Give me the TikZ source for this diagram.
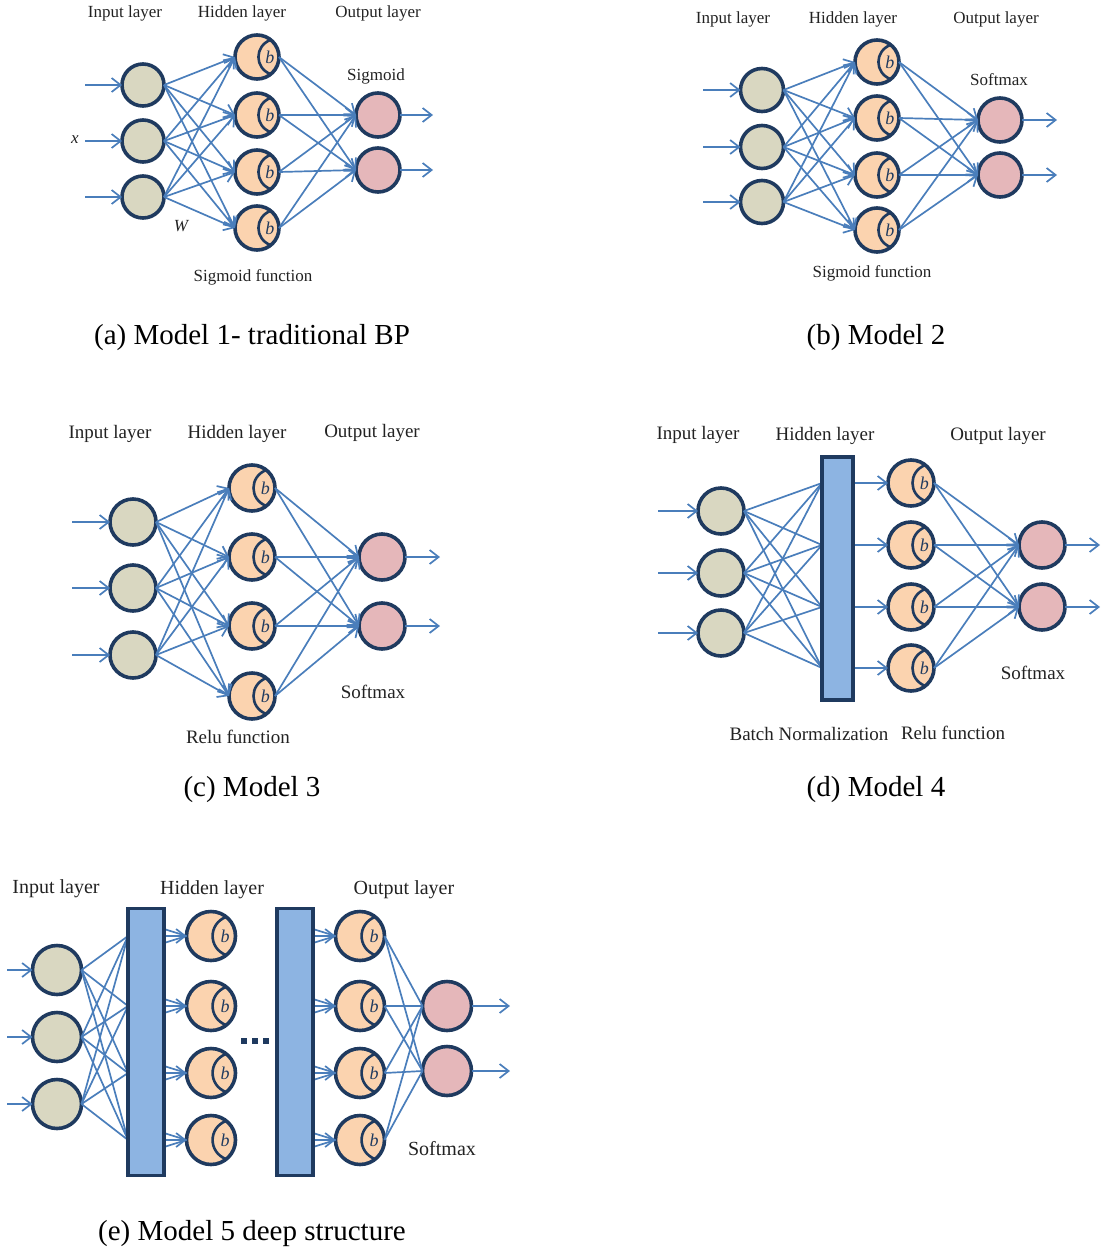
\documentclass[tikz,border=0pt]{standalone}
\usepackage{fontspec}
\setmainfont{Liberation Serif}
\usetikzlibrary{arrows.meta,calc}
\definecolor{ncol}{HTML}{1F3A5F}
\definecolor{infill}{HTML}{D9D7C1}
\definecolor{hidfill}{HTML}{FBD3AF}
\definecolor{outfill}{HTML}{E5B7BA}
\definecolor{lcol}{HTML}{4A7EBB}
\definecolor{bnfill}{HTML}{8DB4E2}
\definecolor{txt}{HTML}{222222}
\tikzset{
  neuron/.style={circle, draw=ncol, line width=3.6pt, inner sep=0pt, outer sep=0pt},
  inn/.style={neuron, fill=infill},
  hid/.style={neuron, fill=hidfill},
  outn/.style={neuron, fill=outfill},
  conn/.style={draw=lcol, line width=1.7pt},
  arr/.style={conn, -{Straight Barb[length=9pt,width=14pt]}},
  bnbox/.style={draw=ncol, fill=bnfill, line width=3.4pt},
  lbl/.style={text=txt, inner sep=0pt},
  captext/.style={text=black, inner sep=0pt, font=\fontsize{29}{32}\selectfont},
}
% hidden neuron: name, x, y, diameter
\newcommand\hneuron[4]{%
  \node[hid, minimum size=#4] (#1) at (#2,#3) {};
  \draw[ncol, line width=2.6pt] ($(#1)+({0.31*#4},{-0.39*#4})$) .. controls ($(#1)+({-0.06*#4},{-0.25*#4})$) and ($(#1)+({-0.06*#4},{0.25*#4})$) .. ($(#1)+({0.31*#4},{0.39*#4})$);
  \node[text=ncol, inner sep=0pt, font=\itshape\fontsize{18}{18}\selectfont] at ($(#1)+({0.29*#4},0)$) {b};
}
\begin{document}
\begin{tikzpicture}[x=1pt,y=-1pt]
\useasboundingbox (0,0) rectangle (1104,1253);

%% ---------------- Panel (a) ----------------
\begin{scope}[lbl/.append style={font=\fontsize{17}{20}\selectfont}]
\foreach \i/\y in {1/85,2/141,3/197} {
  \node[inn, minimum size=42] (a-i\i) at (143,\y) {};
  \coordinate (a-s\i) at (85,\y);
}
\foreach \i/\y in {1/57,2/115,3/172,4/228} { \hneuron{a-h\i}{257}{\y}{44} }
\foreach \i/\y in {1/115,2/170} {
  \node[outn, minimum size=44] (a-o\i) at (378,\y) {};
  \coordinate (a-e\i) at (433,\y);
}
\foreach \i in {1,2,3} { \draw[arr] (a-s\i) -- (a-i\i.west);
  \foreach \j in {1,2,3,4} { \draw[arr] (a-i\i.east) -- (a-h\j.west); } }
\foreach \j in {1,2,3,4} { \foreach \k in {1,2} { \draw[arr] (a-h\j.east) -- (a-o\k.west); } }
\foreach \k in {1,2} { \draw[arr] (a-o\k.east) -- (a-e\k); }
\node[lbl] (a-l1) at (125,13) {Input layer};
\node[lbl] (a-l2) at (242,13) {Hidden layer};
\node[lbl] (a-l3) at (378,13) {Output layer};
\node[lbl] (a-l4) at (376,76) {Sigmoid};
\node[lbl, font=\itshape\fontsize{17}{20}\selectfont] (a-x) at (75,140) {x};
\node[lbl, font=\itshape\fontsize{17}{20}\selectfont] (a-w) at (181,226) {W};
\node[lbl] (a-l5) at (253,277) {Sigmoid function};
\end{scope}
\node[captext] (a-cap) at (252,338) {(a) Model 1- traditional BP};

%% ---------------- Panel (b) ----------------
\begin{scope}[lbl/.append style={font=\fontsize{17}{20}\selectfont}]
\foreach \i/\y in {1/90,2/147,3/202} {
  \node[inn, minimum size=43] (b-i\i) at (762,\y) {};
  \coordinate (b-s\i) at (703,\y);
}
\foreach \i/\y in {1/62,2/118,3/175,4/230} { \hneuron{b-h\i}{877}{\y}{44} }
\foreach \i/\y in {1/120,2/175} {
  \node[outn, minimum size=44] (b-o\i) at (1000,\y) {};
  \coordinate (b-e\i) at (1057,\y);
}
\foreach \i in {1,2,3} { \draw[arr] (b-s\i) -- (b-i\i.west);
  \foreach \j in {1,2,3,4} { \draw[arr] (b-i\i.east) -- (b-h\j.west); } }
\foreach \j in {1,2,3,4} { \foreach \k in {1,2} { \draw[arr] (b-h\j.east) -- (b-o\k.west); } }
\foreach \k in {1,2} { \draw[arr] (b-o\k.east) -- (b-e\k); }
\node[lbl] (b-l1) at (733,19) {Input layer};
\node[lbl] (b-l2) at (853,19) {Hidden layer};
\node[lbl] (b-l3) at (996,19) {Output layer};
\node[lbl] (b-l4) at (999,80) {Softmax};
\node[lbl] (b-l5) at (872,273) {Sigmoid function};
\end{scope}
\node[captext] (b-cap) at (876,338) {(b) Model 2};

%% ---------------- Panel (c) ----------------
\begin{scope}[lbl/.append style={font=\fontsize{19}{22}\selectfont}]
\foreach \i/\y in {1/522,2/588,3/655} {
  \node[inn, minimum size=46] (c-i\i) at (133,\y) {};
  \coordinate (c-s\i) at (72,\y);
}
\foreach \i/\y in {1/488,2/557,3/626,4/696} { \hneuron{c-h\i}{252}{\y}{46} }
\foreach \i/\y in {1/557,2/626} {
  \node[outn, minimum size=46] (c-o\i) at (382,\y) {};
  \coordinate (c-e\i) at (440,\y);
}
\foreach \i in {1,2,3} { \draw[arr] (c-s\i) -- (c-i\i.west);
  \foreach \j in {1,2,3,4} { \draw[arr] (c-i\i.east) -- (c-h\j.west); } }
\foreach \j in {1,2,3,4} { \foreach \k in {1,2} { \draw[arr] (c-h\j.east) -- (c-o\k.west); } }
\foreach \k in {1,2} { \draw[arr] (c-o\k.east) -- (c-e\k); }
\node[lbl] (c-l1) at (110,434) {Input layer};
\node[lbl] (c-l2) at (237,434) {Hidden layer};
\node[lbl] (c-l3) at (372,433) {Output layer};
\node[lbl] (c-l4) at (373,692) {Softmax};
\node[lbl] (c-l5) at (238,737) {Relu function};
\end{scope}
\node[captext] (c-cap) at (252,790) {(c) Model 3};

%% ---------------- Panel (d) ----------------
\begin{scope}[lbl/.append style={font=\fontsize{19}{22}\selectfont}]
\foreach \i/\y in {1/511,2/573,3/633} {
  \node[inn, minimum size=46] (d-i\i) at (721,\y) {};
  \coordinate (d-s\i) at (658,\y);
}
\node[bnbox, minimum width=31, minimum height=243, inner sep=0pt, outer sep=0pt] (d-bn) at (837.5,578.5) {};
\foreach \i/\y in {1/483,2/545,3/607,4/668} {
  \hneuron{d-h\i}{911}{\y}{46}
  \coordinate (d-bl\i) at (822,\y);
  \coordinate (d-br\i) at (853,\y);
}
\foreach \i/\y in {1/545,2/607} {
  \node[outn, minimum size=46] (d-o\i) at (1042,\y) {};
  \coordinate (d-e\i) at (1100,\y);
}
\foreach \i in {1,2,3} { \draw[arr] (d-s\i) -- (d-i\i.west);
  \foreach \j in {1,2,3,4} { \draw[conn] (d-i\i.east) -- (d-bl\j); } }
\foreach \j in {1,2,3,4} { \draw[arr] (d-br\j) -- (d-h\j.west);
  \foreach \k in {1,2} { \draw[arr] (d-h\j.east) -- (d-o\k.west); } }
\foreach \k in {1,2} { \draw[arr] (d-o\k.east) -- (d-e\k); }
\node[bnbox, minimum width=31, minimum height=243, inner sep=0pt, outer sep=0pt] at (d-bn) {};
\node[lbl] (d-l1) at (698,435) {Input layer};
\node[lbl] (d-l2) at (825,436) {Hidden layer};
\node[lbl] (d-l3) at (998,436) {Output layer};
\node[lbl] (d-l4) at (1033,673) {Softmax};
\node[lbl] (d-l5) at (809,734) {Batch Normalization};
\node[lbl] (d-l6) at (953,733) {Relu function};
\end{scope}
\node[captext] (d-cap) at (876,790) {(d) Model 4};

%% ---------------- Panel (e) ----------------
\begin{scope}[lbl/.append style={font=\fontsize{20}{23}\selectfont}]
\foreach \i/\y in {1/970,2/1037,3/1104} {
  \node[inn, minimum size=49] (e-i\i) at (57,\y) {};
  \coordinate (e-s\i) at (7,\y);
}
\node[bnbox, minimum width=36, minimum height=267, inner sep=0pt, outer sep=0pt] (e-bn1) at (146,1042) {};
\node[bnbox, minimum width=36, minimum height=267, inner sep=0pt, outer sep=0pt] (e-bn2) at (295,1042) {};
\foreach \i/\y in {1/936,2/1006,3/1073,4/1140} {
  \hneuron{e-h\i}{211}{\y}{49}
  \hneuron{e-g\i}{360}{\y}{49}
  \coordinate (e-bl\i) at (128,\y);
  \coordinate (e-br\i) at (164,\y);
  \coordinate (e-ba\i) at (164,\y-7);
  \coordinate (e-bb\i) at (164,\y+7);
  \coordinate (e-cr\i) at (313,\y);
  \coordinate (e-ca\i) at (313,\y-7);
  \coordinate (e-cb\i) at (313,\y+7);
}
\foreach \i/\y in {1/1006,2/1071} {
  \node[outn, minimum size=49] (e-o\i) at (447,\y) {};
  \coordinate (e-e\i) at (510,\y);
}
\foreach \i in {1,2,3} { \draw[arr] (e-s\i) -- (e-i\i.west);
  \foreach \j in {1,2,3,4} { \draw[conn] (e-i\i.east) -- (e-bl\j); } }
\foreach \j in {1,2,3,4} {
  \draw[arr] (e-br\j) -- (e-h\j.west);
  \draw[conn] (e-ba\j) -- (e-h\j.west);
  \draw[conn] (e-bb\j) -- (e-h\j.west);
  \draw[arr] (e-cr\j) -- (e-g\j.west);
  \draw[conn] (e-ca\j) -- (e-g\j.west);
  \draw[conn] (e-cb\j) -- (e-g\j.west);
  \foreach \k in {1,2} { \draw[conn] (e-g\j.east) -- (e-o\k.west); } }
\foreach \k in {1,2} { \draw[arr] (e-o\k.east) -- (e-e\k); }
\node[bnbox, minimum width=36, minimum height=267, inner sep=0pt, outer sep=0pt] at (e-bn1) {};
\node[bnbox, minimum width=36, minimum height=267, inner sep=0pt, outer sep=0pt] at (e-bn2) {};
\foreach \i/\x in {1/244,2/255,3/266} { \fill[ncol] (\x-3,1038) rectangle (\x+3,1044); }
\node[lbl] (e-l1) at (56,889) {Input layer};
\node[lbl] (e-l2) at (212,890) {Hidden layer};
\node[lbl] (e-l3) at (404,890) {Output layer};
\node[lbl] (e-l4) at (442,1149) {Softmax};
\end{scope}
\node[captext] (e-cap) at (252,1234) {(e) Model 5 deep structure};
\end{tikzpicture}
\end{document}
